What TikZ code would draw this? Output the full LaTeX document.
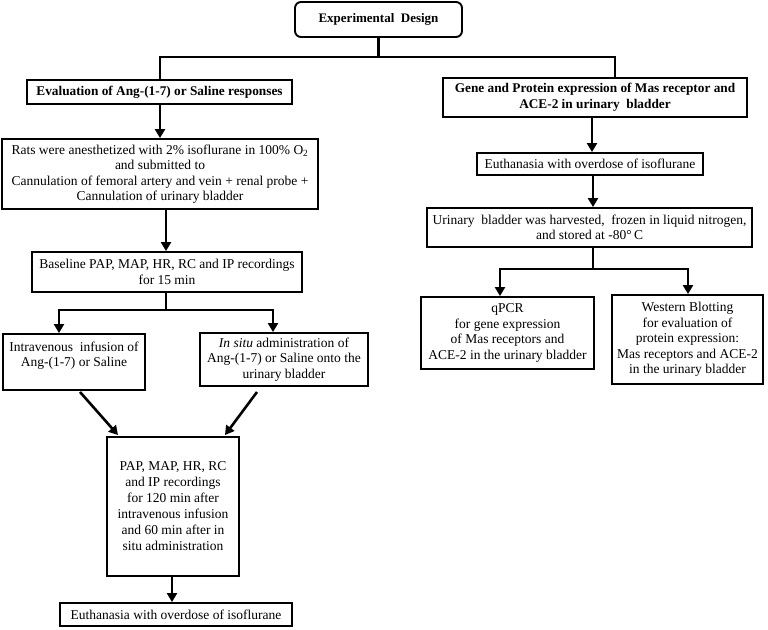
\documentclass[tikz,border=0pt]{standalone}
\usepackage{fontspec}
\setmainfont{Liberation Serif}
\usetikzlibrary{arrows.meta}
\tikzset{
  box/.style={draw, line width=1.9pt, inner sep=0pt, align=center, font=\fontsize{13.5}{15.5}\selectfont},
  bbox/.style={box, font=\bfseries\fontsize{13.3}{15.5}\selectfont},
  conn/.style={line width=2.6pt},
  arr/.style={line width=2.6pt, -{Triangle[width=10pt,length=9pt]}}
}
\begin{document}
\begin{tikzpicture}[x=1pt,y=-1pt]
\useasboundingbox (0,0) rectangle (768,629);
% nodes
\node[bbox, rounded corners=6pt, minimum width=167pt, minimum height=35pt, font=\bfseries\fontsize{13}{15.5}\selectfont] (top) at (378.5,19.5) {Experimental\ \ Design};
\node[bbox, minimum width=265pt, minimum height=24pt] (ev) at (159.5,92) {Evaluation of Ang-(1-7) or Saline responses};
\node[box, minimum width=316pt, minimum height=70pt] (rats) at (160,174) {Rats were anesthetized with 2\% isoflurane in 100\% O\textsubscript{2}\\and submitted to\\Cannulation of femoral artery and vein + renal probe +\\Cannulation of urinary bladder};
\node[box, minimum width=270pt, minimum height=40pt] (base) at (167,272) {Baseline PAP, MAP, HR, RC and IP recordings\\for 15 min};
\node[box, minimum width=142pt, minimum height=56pt] (iv) at (74,362) {Intravenous\ \ infusion of\\Ang-(1-7) or Saline\\\mbox{}};
\node[box, minimum width=168pt, minimum height=53pt] (insitu) at (284,359.5) {\textit{In situ} administration of\\Ang-(1-7) or Saline onto the\\urinary bladder};
\node[box, minimum width=132pt, minimum height=139pt, font=\fontsize{13.5}{16}\selectfont] (pap) at (173,506.5) {PAP, MAP, HR, RC\\and IP recordings\\for 120 min after\\intravenous infusion\\and 60 min after in\\situ administration};
\node[box, minimum width=232pt, minimum height=23pt] (euth1) at (176,614.5) {Euthanasia with overdose of isoflurane};
\node[bbox, minimum width=304pt, minimum height=39pt] (gene) at (595,97.5) {Gene and Protein expression of Mas receptor and\\ACE-2 in urinary\ \ bladder};
\node[box, minimum width=226pt, minimum height=22pt] (euth2) at (590,164) {Euthanasia with overdose of isoflurane};
\node[box, minimum width=325pt, minimum height=39pt] (urin) at (589.5,227.5) {Urinary\ \ bladder was harvested,\ \ frozen in liquid nitrogen,\\and stored at -80\textdegree\,C};
\node[box, minimum width=173pt, minimum height=72pt] (qpcr) at (507.5,333) {qPCR\\for gene expression\\of Mas receptors and\\ACE-2 in the urinary bladder};
\node[box, minimum width=151pt, minimum height=89pt] (wb) at (687.5,339.5) {Western Blotting\\for evaluation of\\protein expression:\\Mas receptors and ACE-2\\in the urinary bladder};
% coordinates
\coordinate (hl) at (378.5,57);
\coordinate (hL) at (160,57);
\coordinate (hR) at (615,57);
\coordinate (c166) at (166,0);
\coordinate (c172) at (172,0);
\coordinate (c592) at (592,0);
\coordinate (c593) at (593,0);
\coordinate (b1) at (166,310);
\coordinate (b1L) at (59,310);
\coordinate (b1R) at (273,310);
\coordinate (b2) at (593,269);
\coordinate (b2L) at (500,269);
\coordinate (b2R) at (688,269);
\coordinate (d1a) at (80,392);
\coordinate (d1b) at (118,435);
\coordinate (d2a) at (257,392);
\coordinate (d2b) at (225,435);
% connectors
\draw[conn] (top.south) -- (hl);
\draw[conn] (hL |- ev.north) -- (hL) -- (hR) -- (hR |- gene.north);
\draw[arr] (hL |- ev.south) -- (hL |- rats.north);
\draw[arr] (c166 |- rats.south) -- (c166 |- base.north);
\draw[conn] (c166 |- base.south) -- (b1);
\draw[arr] (b1) -| (b1L |- iv.north);
\draw[arr] (b1) -| (b1R |- insitu.north);
\draw[arr] (d1a) -- (d1b);
\draw[arr] (d2a) -- (d2b);
\draw[arr] (c172 |- pap.south) -- (c172 |- euth1.north);
\draw[arr] (c592 |- gene.south) -- (c592 |- euth2.north);
\draw[arr] (c593 |- euth2.south) -- (c593 |- urin.north);
\draw[conn] (c593 |- urin.south) -- (b2);
\draw[arr] (b2) -| (b2L |- qpcr.north);
\draw[arr] (b2) -| (b2R |- wb.north);
\end{tikzpicture}
\end{document}
